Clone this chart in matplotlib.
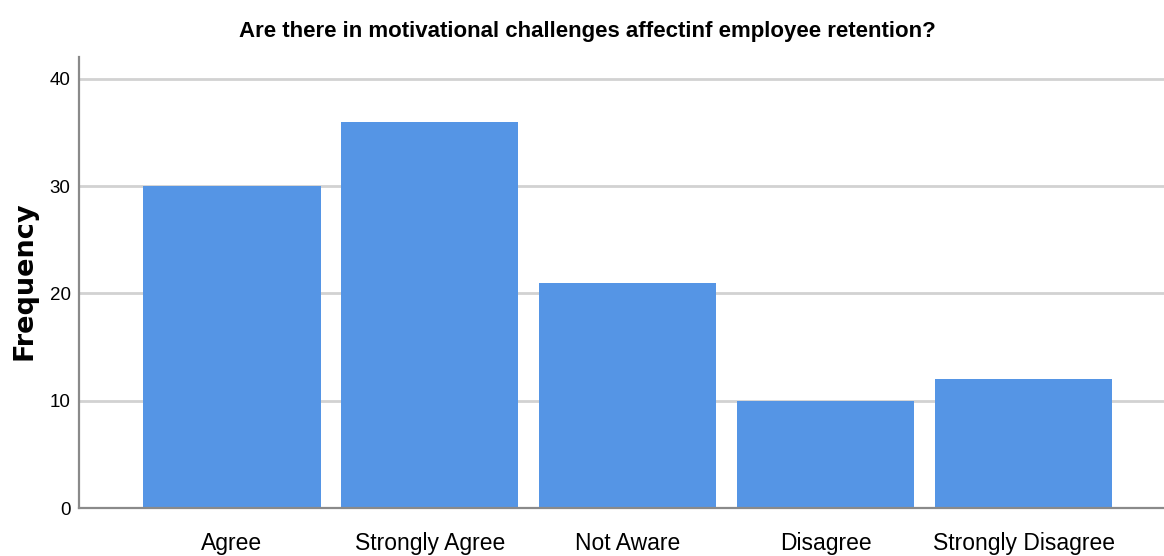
import matplotlib
matplotlib.use("Agg")
import matplotlib.pyplot as plt
from matplotlib import font_manager

categories = ["Agree", "Strongly Agree", "Not Aware", "Disagree", "Strongly Disagree"]
frequency = [30, 36, 21, 10, 12]
y_ticks = [0, 10, 20, 30, 40]

names = {f.name for f in font_manager.fontManager.ttflist}
narrow = "Liberation Sans Narrow" if "Liberation Sans Narrow" in names else "Liberation Sans"

fig = plt.figure(figsize=(11.64, 5.56), dpi=100)
ax = fig.add_axes([0.0679, 0.0863, 0.9321, 0.8112])

x = list(range(len(categories)))
ax.bar(x, frequency, width=0.895, color="#5595e5", zorder=3)

ax.set_xlim(-0.773, 4.71)
ax.set_ylim(0, 42.05)
ax.set_yticks(y_ticks)
ax.set_yticklabels([str(v) for v in y_ticks], family=narrow, fontsize=13.5)
ax.set_xticks(x)
ax.set_xticklabels(categories, family=narrow, fontsize=16.5)
ax.tick_params(axis="y", length=0, pad=6)
ax.tick_params(axis="x", length=0, pad=17)

ax.grid(axis="y", color="#d2d2d2", linewidth=2, zorder=0)
for side in ("top", "right"):
    ax.spines[side].set_visible(False)
for side in ("left", "bottom"):
    ax.spines[side].set_color("#8a8a8a")
    ax.spines[side].set_linewidth(1.6)
    ax.spines[side].set_zorder(4)

fig.text(25 / 1164, 1 - 281 / 556, "Frequency", family="DejaVu Sans",
         fontweight="bold", fontsize=19.5, rotation=90, ha="center", va="center")
fig.text(587 / 1164, 1 - 31 / 556,
         "Are there in motivational challenges affectinf employee retention?",
         family=narrow, fontweight="bold", fontsize=16, ha="center", va="center")

fig.savefig("out.png", dpi=100)
